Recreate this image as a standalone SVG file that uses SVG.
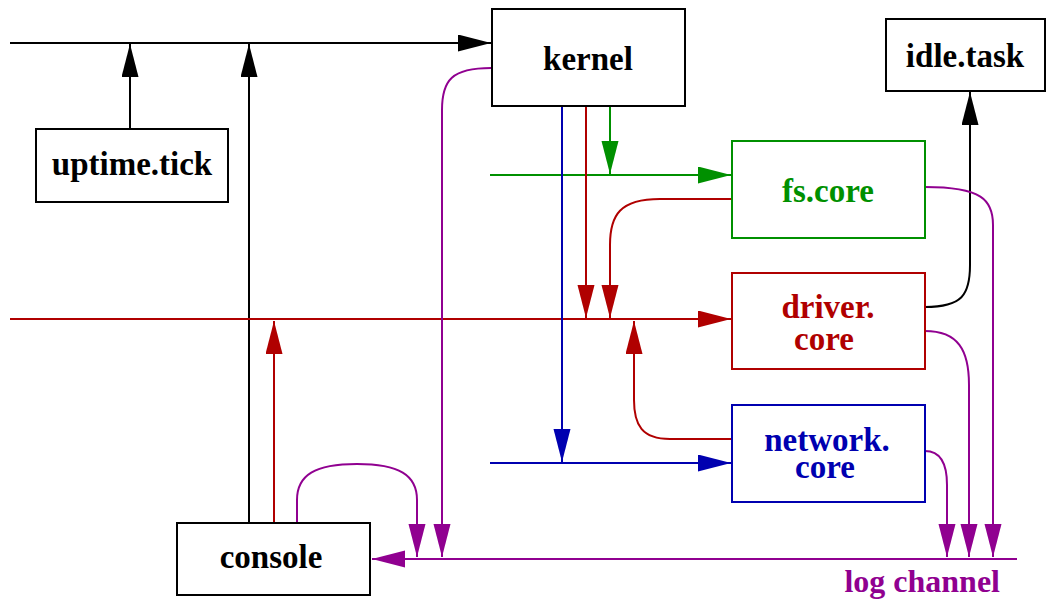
<svg xmlns="http://www.w3.org/2000/svg" width="1047" height="600" viewBox="0 0 1047 600">
  <style>
    .box { fill: #ffffff; stroke-width: 2; }
    .lbl { font-weight: bold; font-size: 33px; text-anchor: middle; }
    .w { fill: none; stroke-width: 2; }
    .k { stroke: #000000; }
    .g { stroke: #009000; }
    .r { stroke: #b00000; }
    .b { stroke: #0000b0; }
    .m { stroke: #900090; }
  </style>
  <defs>
    <marker id="ah-k" markerUnits="userSpaceOnUse" markerWidth="34" markerHeight="18" refX="33" refY="8.5" orient="auto">
      <path d="M0,0 L33,8.5 L0,17 z" fill="#000000"/>
    </marker>
    <marker id="ah-g" markerUnits="userSpaceOnUse" markerWidth="34" markerHeight="18" refX="33" refY="8.5" orient="auto">
      <path d="M0,0 L33,8.5 L0,17 z" fill="#009000"/>
    </marker>
    <marker id="ah-r" markerUnits="userSpaceOnUse" markerWidth="34" markerHeight="18" refX="33" refY="8.5" orient="auto">
      <path d="M0,0 L33,8.5 L0,17 z" fill="#b00000"/>
    </marker>
    <marker id="ah-b" markerUnits="userSpaceOnUse" markerWidth="34" markerHeight="18" refX="33" refY="8.5" orient="auto">
      <path d="M0,0 L33,8.5 L0,17 z" fill="#0000b0"/>
    </marker>
    <marker id="ah-m" markerUnits="userSpaceOnUse" markerWidth="34" markerHeight="18" refX="33" refY="8.5" orient="auto">
      <path d="M0,0 L33,8.5 L0,17 z" fill="#900090"/>
    </marker>
  </defs>

  <rect width="1047" height="600" fill="#ffffff"/>

  <g id="connectors">
    <!-- black: tick bus into the kernel, idle hand-off -->
    <path class="w k" d="M10,43 L491,43" marker-end="url(#ah-k)"/>
    <path class="w k" d="M130,129 L130,44" marker-end="url(#ah-k)"/>
    <path class="w k" d="M249,523 L249,44" marker-end="url(#ah-k)"/>
    <path class="w k" d="M925,307 C962,307 970,295 970,265 L970,92" marker-end="url(#ah-k)"/>

    <!-- green: fs bus -->
    <path class="w g" d="M490,175 L731,175" marker-end="url(#ah-g)"/>
    <path class="w g" d="M610,106 L610,174" marker-end="url(#ah-g)"/>

    <!-- red: driver bus -->
    <path class="w r" d="M10,319 L731,319" marker-end="url(#ah-r)"/>
    <path class="w r" d="M586,106 L586,318" marker-end="url(#ah-r)"/>
    <path class="w r" d="M732,199 L660,199 C620,199 610,215 610,245 L610,318" marker-end="url(#ah-r)"/>
    <path class="w r" d="M732,439 L670,439 C642,439 634,425 634,400 L634,321" marker-end="url(#ah-r)"/>
    <path class="w r" d="M274,523 L274,321" marker-end="url(#ah-r)"/>

    <!-- blue: network bus -->
    <path class="w b" d="M490,463 L731,463" marker-end="url(#ah-b)"/>
    <path class="w b" d="M562,106 L562,462" marker-end="url(#ah-b)"/>

    <!-- purple: log channel -->
    <path class="w m" d="M1017,559 L372,559" marker-end="url(#ah-m)"/>
    <path class="w m" d="M491,68 C452,68 442,80 442,110 L442,557" marker-end="url(#ah-m)"/>
    <path class="w m" d="M297,523 L297,500 C297,475 315,464 357,464 C399,464 417,475 417,500 L417,557" marker-end="url(#ah-m)"/>
    <path class="w m" d="M925,187 C982,187 993,200 993,225 L993,557" marker-end="url(#ah-m)"/>
    <path class="w m" d="M925,331 C958,331 969,350 969,385 L969,557" marker-end="url(#ah-m)"/>
    <path class="w m" d="M925,451 C941,451 947,465 947,485 L947,557" marker-end="url(#ah-m)"/>
  </g>

  <g font-family="'Liberation Serif', 'DejaVu Serif', serif">
    <g id="kernel">
      <rect class="box" x="492" y="9" width="193" height="97" stroke="#000000"/>
      <text class="lbl" x="588" y="70" fill="#000000">kernel</text>
    </g>

    <g id="uptime-tick">
      <rect class="box" x="36" y="129" width="192" height="73" stroke="#000000"/>
      <text class="lbl" x="132" y="175" fill="#000000">uptime.tick</text>
    </g>

    <g id="idle-task">
      <rect class="box" x="886" y="19" width="159" height="72" stroke="#000000"/>
      <text class="lbl" x="965" y="67" fill="#000000">idle.task</text>
    </g>

    <g id="fs-core">
      <rect class="box" x="732" y="141" width="193" height="97" stroke="#009000"/>
      <text class="lbl" x="828" y="202" fill="#009000">fs.core</text>
    </g>

    <g id="driver-core">
      <rect class="box" x="732" y="273" width="193" height="96" stroke="#b00000"/>
      <text class="lbl" x="828" y="318" fill="#b00000">driver.</text>
      <text class="lbl" x="824" y="350" fill="#b00000">core</text>
    </g>

    <g id="network-core">
      <rect class="box" x="732" y="405" width="193" height="97" stroke="#0000b0"/>
      <text class="lbl" x="827" y="451" fill="#0000b0">network.</text>
      <text class="lbl" x="825" y="478" fill="#0000b0">core</text>
    </g>

    <g id="console">
      <rect class="box" x="177" y="523" width="193" height="72" stroke="#000000"/>
      <text class="lbl" x="271" y="568" fill="#000000">console</text>
    </g>

    <g id="log-channel-label">
      <text class="lbl" x="1000" y="592" fill="#900090" style="text-anchor: end; font-size: 32px;">log channel</text>
    </g>
  </g>
</svg>
